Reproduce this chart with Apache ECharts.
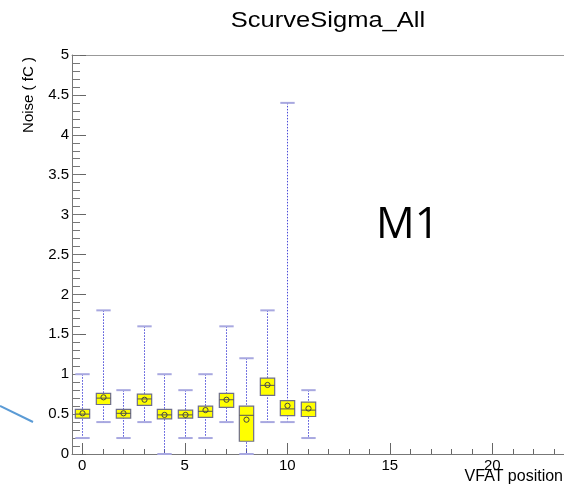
<!DOCTYPE html>
<html>
<head>
<meta charset="utf-8">
<script src="https://cdn.jsdelivr.net/npm/echarts@6/dist/echarts.min.js"></script>
<style>html,body{margin:0;padding:0;background:#fff;}#c{width:564px;height:489px;}</style>
</head>
<body>
<div id="c"></div>
<script>
// VFAT positions and box statistics (fC)
const positions = [0,1,2,3,4,5,6,7,8,9,10,11];
const whiskerLow  = [0.20,0.40,0.20,0.40,0.00,0.20,0.20,0.40,0.00,0.40,0.40,0.20];
const q1          = [0.45,0.62,0.45,0.61,0.44,0.45,0.46,0.585,0.16,0.735,0.48,0.47];
const median      = [0.50,0.70,0.51,0.69,0.49,0.49,0.535,0.68,0.485,0.86,0.565,0.55];
const q3          = [0.56,0.76,0.56,0.75,0.56,0.55,0.60,0.76,0.60,0.95,0.67,0.65];
const whiskerHigh = [1.00,1.80,0.80,1.60,1.00,0.80,1.00,1.60,1.20,1.80,4.40,0.80];
const mean        = [0.51,0.71,0.51,0.68,0.49,0.49,0.55,0.68,0.43,0.865,0.605,0.57];
const xCategories = Array.from({length:24},(_,i)=>String(i));
const yTicks = {min:0, max:5, interval:0.5, minorInterval:0.1};

const data = positions.map((p,i)=>[p, whiskerLow[i], q1[i], median[i], q3[i], whiskerHigh[i], mean[i]]);

const chart = echarts.init(document.getElementById('c'), null, {renderer:'canvas'});
const FONT = 'Liberation Sans';

function renderItem(params, api){
  const x = api.value(0);
  const pLow = api.coord([x, api.value(1)]);
  const pQ1 = api.coord([x, api.value(2)]);
  const pMed = api.coord([x, api.value(3)]);
  const pQ3 = api.coord([x, api.value(4)]);
  const pHigh = api.coord([x, api.value(5)]);
  const pMean = api.coord([x, api.value(6)]);
  const bw = api.size([1,0])[0]*0.7;
  const cx = Math.round(pQ1[0]) + 0.5;
  const children = [];
  children.push({type:'line', shape:{x1:cx,y1:pHigh[1],x2:cx,y2:pLow[1]},
    style:{stroke:'#4a4ad8', lineWidth:1, lineDash:[1.5,1.5]}});
  [pHigh, pLow].forEach(p=>{
    children.push({type:'line', shape:{x1:cx-bw/2,y1:p[1],x2:cx+bw/2,y2:p[1]},
      style:{stroke:'#a8a8e0', lineWidth:2}});
  });
  children.push({type:'rect', shape:{x:cx-bw/2, y:pQ3[1], width:bw, height:pQ1[1]-pQ3[1]},
    style:{fill:'#ffff00', stroke:'#6e6e8a', lineWidth:1.2}});
  children.push({type:'line', shape:{x1:cx-bw/2,y1:pMed[1],x2:cx+bw/2,y2:pMed[1]},
    style:{stroke:'#555', lineWidth:1}});
  children.push({type:'circle', shape:{cx:cx, cy:pMean[1], r:2.6},
    style:{fill:'none', stroke:'#444', lineWidth:1}});
  return {type:'group', children};
}

const option = {
  animation:false,
  backgroundColor:'#fff',
  grid:{left:72, top:55, right:0, bottom:35},
  xAxis:[
    {type:'category', data:xCategories, boundaryGap:true,
     axisLine:{show:true, lineStyle:{color:'#777', width:1}},
     axisTick:{show:true, inside:true, alignWithLabel:true, interval:0, length:5, lineStyle:{color:'#666'}},
     axisLabel:{show:false}, splitLine:{show:false}},
    {type:'category', data:xCategories, boundaryGap:true, position:'bottom',
     axisLine:{show:false},
     axisTick:{show:true, inside:true, alignWithLabel:true, interval:(i)=>i%5===0, length:11, lineStyle:{color:'#666'}},
     axisLabel:{show:true, interval:(i)=>i%5===0, fontFamily:FONT, fontSize:15, color:'#000', margin:4},
     splitLine:{show:false}},
    {type:'category', data:xCategories, position:'top',
     axisLine:{show:true, lineStyle:{color:'#999', width:1}},
     axisTick:{show:false}, axisLabel:{show:false}}
  ],
  yAxis:[
    {type:'value', min:yTicks.min, max:yTicks.max, interval:yTicks.interval,
     axisLine:{show:true, lineStyle:{color:'#777', width:1}},
     axisTick:{show:true, inside:true, length:14, lineStyle:{color:'#666'}},
     axisLabel:{fontFamily:FONT, fontSize:15, color:'#000', margin:3},
     splitLine:{show:false}},
    {type:'value', min:yTicks.min, max:yTicks.max, interval:yTicks.minorInterval, position:'left',
     axisLine:{show:false},
     axisTick:{show:true, inside:true, length:8, lineStyle:{color:'#777'}},
     axisLabel:{show:false}, splitLine:{show:false}}
  ],
  series:[{type:'custom', renderItem, data, xAxisIndex:0, yAxisIndex:0,
    encode:{x:0, y:[1,2,3,4,5,6]}, clip:false}],
  graphic:[
    {type:'text', x:328, y:21, scaleX:1.16,
     style:{text:'ScurveSigma_All', fontFamily:FONT, fontSize:22, fill:'#000', textAlign:'center', textVerticalAlign:'middle'}},
    {type:'text', x:29, y:95, rotation:Math.PI/2,
     style:{text:'Noise ( fC )', fontFamily:FONT, fontSize:15, fill:'#000', textAlign:'center', textVerticalAlign:'middle'}},
    {type:'text', x:563, y:477,
     style:{text:'VFAT position', fontFamily:FONT, fontSize:16, fill:'#000', textAlign:'right', textVerticalAlign:'middle'}},
    {type:'text', x:376, y:226,
     style:{text:'M1', fontFamily:'Open Sans', fontSize:43, fill:'#000', textAlign:'left', textVerticalAlign:'middle'}},
    {type:'line', shape:{x1:0,y1:406,x2:33,y2:422},
     style:{stroke:'#5b9bd5', lineWidth:2}}
  ]
};
chart.setOption(option);
</script>
</body>
</html>
